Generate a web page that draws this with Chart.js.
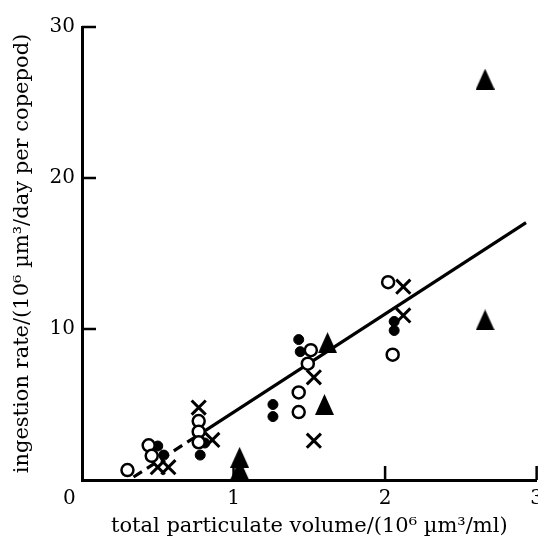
<!DOCTYPE html>
<html>
<head>
<meta charset="utf-8">
<script src="https://cdn.jsdelivr.net/npm/chart.js@4"></script>
<style>
  html, body { margin: 0; padding: 0; background: #fff; overflow: hidden; }
</style>
</head>
<body>
<canvas id="chart" width="550" height="547"></canvas>
<script>
// values: [total particulate volume, ingestion rate]
const openCircles = [
  [0.30, 0.66], [0.44, 2.3], [0.46, 1.6], [0.77, 3.9], [0.77, 3.2], [0.77, 2.5],
  [1.51, 8.6], [1.49, 7.7], [1.43, 5.8], [1.43, 4.5], [2.02, 13.1], [2.05, 8.3]
];
const filledDots = [
  [0.50, 2.25], [0.54, 1.65], [0.78, 1.65], [0.81, 2.45], [1.43, 9.3], [1.44, 8.5],
  [1.26, 5.0], [1.26, 4.2], [2.06, 10.5], [2.06, 9.9]
];
const crosses = [
  [0.50, 0.85], [0.57, 0.85], [0.77, 4.8], [0.86, 2.65], [1.53, 6.8], [1.53, 2.6],
  [2.12, 12.8], [2.12, 10.9]
];
const triangles = [
  [1.04, 1.5], [1.04, 0.7], [1.62, 9.1], [1.60, 5.0], [2.66, 26.55], [2.66, 10.6]
];
// fitted line, dashed at the low end
const fitDashed = [[0.34, 0.2], [0.78, 3.06]];
const fitSolid = [[0.78, 3.06], [2.93, 17.05]];

const xTicks = [0, 1, 2, 3];
const yTicks = [0, 10, 20, 30];

const FONT = "'DejaVu Serif', 'Liberation Serif', serif";

function pts(list) {
  return list.map(p => ({ x: p[0], y: p[1] }));
}

// tall solid triangle used as marker
function triangleMarker(w, h) {
  const c = document.createElement('canvas');
  c.width = w;
  c.height = h;
  const g = c.getContext('2d');
  g.fillStyle = '#000';
  g.beginPath();
  g.moveTo(w / 2, 0);
  g.lineTo(w, h);
  g.lineTo(0, h);
  g.closePath();
  g.fill();
  return c;
}

// small tick marks pointing into the plot
const inwardTicks = {
  id: 'inwardTicks',
  beforeDatasetsDraw(chart) {
    const { ctx, chartArea, scales } = chart;
    ctx.save();
    ctx.strokeStyle = '#000';
    ctx.lineWidth = 2.5;
    ctx.beginPath();
    for (const v of xTicks.slice(1)) {
      const px = scales.x.getPixelForValue(v);
      ctx.moveTo(px, chartArea.bottom);
      ctx.lineTo(px, chartArea.bottom - 14);
    }
    for (const v of yTicks.slice(1)) {
      const py = scales.y.getPixelForValue(v);
      ctx.moveTo(chartArea.left, py);
      ctx.lineTo(chartArea.left + 14, py);
    }
    ctx.stroke();
    ctx.restore();
  }
};

new Chart(document.getElementById('chart'), {
  type: 'scatter',
  data: {
    datasets: [
      {
        type: 'line', data: pts(fitDashed), borderColor: '#000', borderWidth: 3.2,
        borderDash: [10, 6], pointRadius: 0, order: 5
      },
      {
        type: 'line', data: pts(fitSolid), borderColor: '#000', borderWidth: 3.2,
        pointRadius: 0, order: 5
      },
      {
        data: pts(openCircles), pointStyle: 'circle', pointRadius: 6,
        borderColor: '#000', backgroundColor: '#fff', borderWidth: 2.5, order: 1
      },
      {
        data: pts(filledDots), pointStyle: 'circle', pointRadius: 5,
        borderColor: '#000', backgroundColor: '#000', borderWidth: 1, order: 1
      },
      {
        data: pts(crosses), pointStyle: 'crossRot', pointRadius: 10,
        borderColor: '#000', borderWidth: 3, order: 1
      },
      {
        data: pts(triangles), pointStyle: triangleMarker(19, 21), pointRadius: 11,
        order: 1
      }
    ]
  },
  options: {
    responsive: false,
    animation: false,
    events: [],
    layout: { padding: { left: 10, right: 0, top: 27, bottom: 8 } },
    plugins: { legend: { display: false }, tooltip: { enabled: false } },
    scales: {
      x: {
        type: 'linear', min: 0, max: 3,
        afterBuildTicks: s => { s.ticks = xTicks.map(v => ({ value: v })); },
        afterFit: s => { s.height = 547 - 480 - 8; },
        grid: { display: false, drawTicks: false },
        border: { display: true, color: '#000', width: 3 },
        ticks: {
          color: '#000', padding: 7, maxRotation: 0,
          font: { family: FONT, size: 20 },
          callback: v => (v === 0 ? '0\u2007\u2007' : String(v))
        },
        title: {
          display: true, text: 'total particulate volume/(10\u2076 \u00b5m\u00b3/ml)',
          color: '#000', font: { family: FONT, size: 21 }, padding: { top: 0, bottom: 0 }
        }
      },
      y: {
        type: 'linear', min: 0, max: 30,
        afterBuildTicks: s => { s.ticks = yTicks.map(v => ({ value: v })); },
        afterFit: s => { s.width = 82 - 10; },
        grid: { display: false, drawTicks: false },
        border: { display: true, color: '#000', width: 3 },
        ticks: {
          color: '#000', padding: 7,
          font: { family: FONT, size: 20 },
          callback: v => (v === 0 ? '' : String(v))
        },
        title: {
          display: true, text: 'ingestion rate/(10\u2076 \u00b5m\u00b3/day per copepod)',
          color: '#000', font: { family: FONT, size: 21 }, padding: { top: 0, bottom: 0 }
        }
      }
    }
  },
  plugins: [inwardTicks]
});
</script>
</body>
</html>
